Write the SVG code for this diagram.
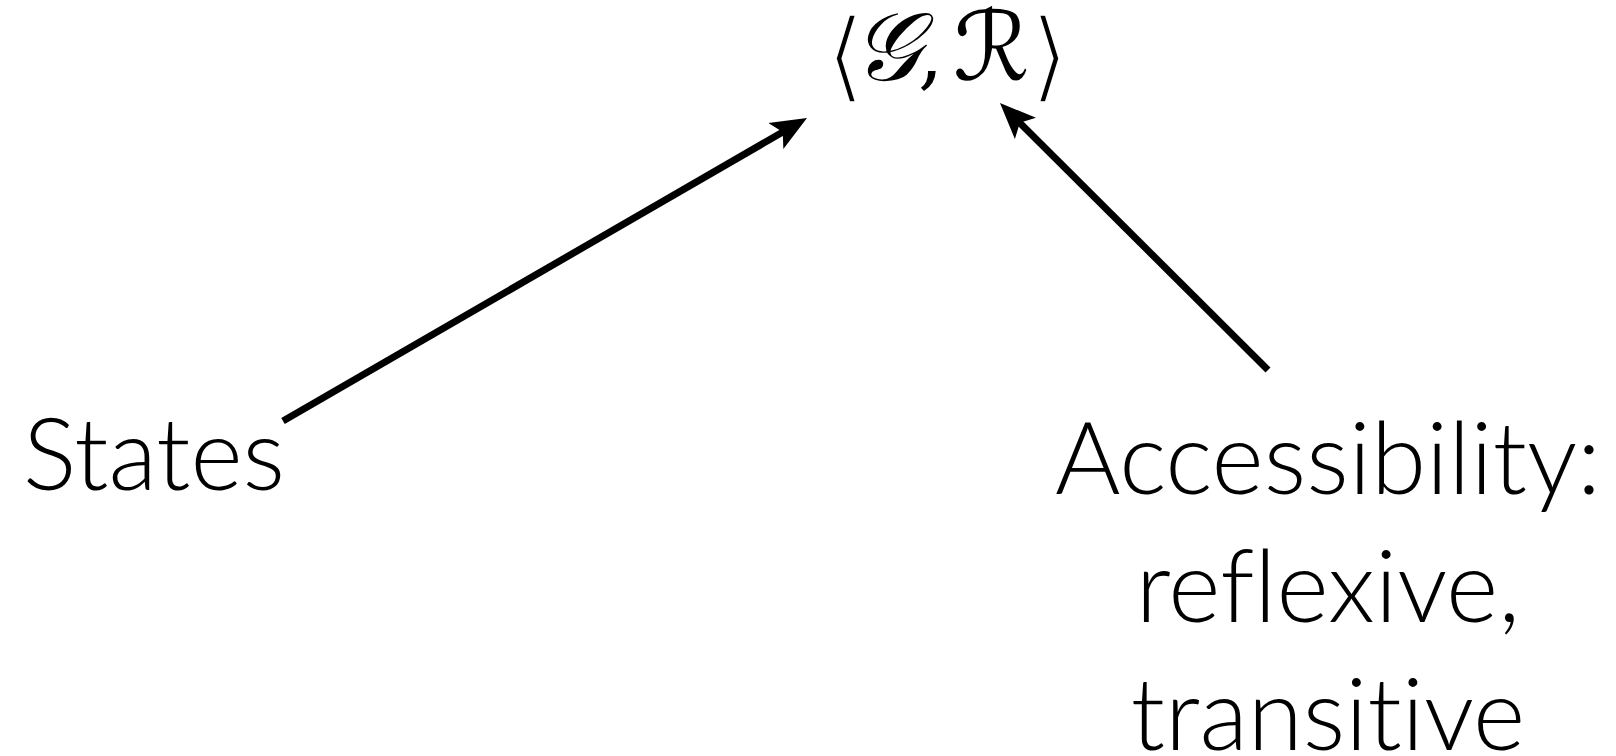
<svg xmlns="http://www.w3.org/2000/svg" width="1616" height="756" viewBox="0 0 1616 756">
<style>
.lbl{font-family:Lato,"Open Sans","Liberation Sans",sans-serif;font-weight:300;font-size:100px;fill:#000;font-variant-ligatures:none;font-feature-settings:"liga" 0}
.math{font-family:"DejaVu Serif","DejaVu Sans",serif;fill:#000;font-size:96px}
.br{font-family:"DejaVu Serif",serif;font-size:100px;font-style:normal;stroke:#fff;stroke-width:3.5}
.edge{stroke:#000;stroke-width:7;fill:none;marker-end:url(#ah)}
</style>
<defs>
<marker id="ah" markerUnits="userSpaceOnUse" viewBox="0 -16 36 32" refX="10" refY="0" markerWidth="36" markerHeight="32" orient="auto">
<path d="M0,-15 L36,0 L0,15 L8,0 Z" fill="#000"/>
</marker>
</defs>
<rect width="1616" height="756" fill="#fff"/>
<g id="connectors">
<line class="edge" x1="283" y1="421" x2="784.5" y2="131"/>
<line class="edge" x1="1268" y1="370" x2="1018.4" y2="121.4"/>
</g>
<g id="node-model">
<text class="math"><tspan class="br" x="826" y="90">⟨</tspan><tspan font-style="italic" x="852" y="80">𝒢</tspan><tspan x="918" font-size="80">,</tspan><tspan font-style="italic" x="953">ℛ</tspan><tspan class="br" x="1030" y="90">⟩</tspan></text>
</g>
<g id="node-states">
<text class="lbl" x="23" y="490">States</text>
</g>
<g id="node-accessibility">
<text class="lbl" text-anchor="middle"><tspan x="1328" y="494">Accessibility:</tspan><tspan x="1328" y="622">reflexive,</tspan><tspan x="1328" y="750">transitive</tspan></text>
</g>
</svg>
